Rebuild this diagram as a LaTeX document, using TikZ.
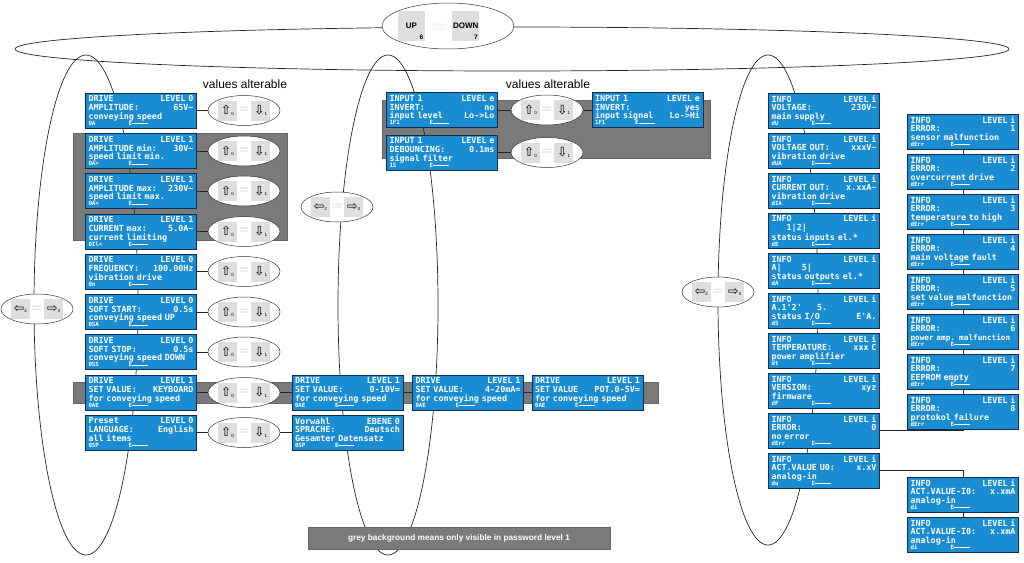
\documentclass[tikz,border=0pt]{standalone}
\usepackage{fontspec}
\setmainfont{Liberation Sans}
\newfontfamily\lcdfont{DejaVu Sans Mono}
\newfontfamily\symfont{DejaVu Sans}
\usetikzlibrary{shapes.geometric, positioning}
\definecolor{lcdblue}{RGB}{26,140,210}
\definecolor{lcdframe}{RGB}{16,44,78}
\definecolor{greybg}{RGB}{122,122,122}
\definecolor{keygrey}{RGB}{222,222,222}
\newcommand{\ac}{\textasciitilde}
\newcommand{\lcd}[6]{#1\hfill #2\\#3\hfill #4\\#5\\[-2.6pt]{\fontsize{5.8}{5.8}\selectfont\makebox[40pt][l]{#6}E\rule[1.5pt]{16pt}{0.6pt}}}
\newcommand{\keyglyph}[2]{{\symfont\fontsize{12.5}{12.5}\selectfont#1}\raisebox{-0.5pt}{\fontsize{4.5}{4.5}\selectfont#2}}
\newcommand{\keypair}[6]{%
  \node[keyoval](#1)at(#2){};
  \node[keysq,left=7pt of #1.center](#1a){\keyglyph{#3}{#4}};
  \node[keysq,right=7pt of #1.center](#1b){\keyglyph{#5}{#6}};
  \node[keyeq](#1c)at(#1.center){=};}
\tikzset{
  lcdbox/.style={
    rectangle, draw=lcdframe, line width=0.8pt, fill=lcdblue, text=white,
    font=\lcdfont\bfseries\fontsize{8.4}{8.6}\selectfont,
    text width=105pt, align=left, inner xsep=3pt, inner ysep=1.5pt,
    minimum height=35pt
  },
  keyoval/.style={
    ellipse, draw=black!80, fill=white, line width=0.5pt,
    minimum width=72pt, minimum height=30pt, inner sep=0pt
  },
  keysq/.style={
    rectangle, fill=keygrey, minimum width=19pt, minimum height=20pt, inner sep=0pt
  },
  keyeq/.style={text=black!12, font=\symfont\fontsize{14}{14}\selectfont, inner sep=0pt},
  updownsq/.style={
    rectangle, fill=keygrey, minimum width=27pt, minimum height=30pt, inner sep=0pt,
    font=\bfseries\fontsize{8}{8}\selectfont
  },
  updownnum/.style={anchor=south east, inner sep=1.5pt, font=\bfseries\fontsize{6.5}{6.5}\selectfont},
  greyband/.style={fill=greybg, draw=black!60, line width=0.4pt},
  loopline/.style={draw=black!85, line width=0.7pt},
  linkline/.style={draw=black!85, line width=0.7pt},
  notetext/.style={font=\fontsize{12}{12}\selectfont},
  legendbox/.style={
    rectangle, fill=greybg, draw=black!60, line width=0.5pt, text=white,
    minimum width=302pt, minimum height=22pt, font=\bfseries\fontsize{8.3}{9}\selectfont
  },
}
\begin{document}
\begin{tikzpicture}[x=1pt,y=-1pt]
\useasboundingbox (0,0) rectangle (1024,562);
% password level 1 areas
\draw[greyband] (73,133) rectangle (287,240);
\draw[greyband] (73,382) rectangle (658,403);
\draw[greyband] (382,100) rectangle (710,158);
% menu loops
\draw[loopline] (512,49) ellipse [x radius=497, y radius=22];
\draw[loopline] (86,305) ellipse [x radius=52, y radius=250];
\draw[loopline] (388,305) ellipse [x radius=50, y radius=250];
\draw[loopline] (768,300) ellipse [x radius=50, y radius=245];
% level keys
\node[keyoval,minimum width=132pt,minimum height=46pt](ud)at(448,26){};
\node[updownsq,left=23pt of ud.center,label={[updownnum]south east:6}](up){UP};
\node[updownsq,right=4pt of ud.center,label={[updownnum]south east:7}](down){DOWN};
\node[font=\fontsize{4}{4.5}\selectfont,text=black!10,align=center](udmid)at(439,27){ENTER\\LEVEL};
\node[notetext](va1)at(245,84){values alterable};
\node[notetext](va2)at(548,84){values alterable};
% drive menu
\node[lcdbox](d1)at(141,110.5){\lcd{DRIVE}{LEVEL 0}{AMPLITUDE:}{65V\ac}{conveying speed}{0A}};
\node[lcdbox](d2)at(141,151){\lcd{DRIVE}{LEVEL 1}{AMPLITUDE min:}{30V\ac}{speed limit min.}{0A>}};
\node[lcdbox](d3)at(141,191){\lcd{DRIVE}{LEVEL 1}{AMPLITUDE max:}{230V\ac}{speed limit max.}{0A<}};
\node[lcdbox](d4)at(141,231.5){\lcd{DRIVE}{LEVEL 1}{CURRENT max:}{5.0A\ac}{current limiting}{0Il<}};
\node[lcdbox](d5)at(141,271.5){\lcd{DRIVE}{LEVEL 0}{FREQUENCY:}{100.00Hz}{vibration drive}{0n}};
\node[lcdbox](d6)at(141,312){\lcd{DRIVE}{LEVEL 0}{SOFT START:}{0.5s}{conveying speed UP}{0SA}};
\node[lcdbox](d7)at(141,352){\lcd{DRIVE}{LEVEL 0}{SOFT STOP:}{0.5s}{conveying speed DOWN}{0SS}};
\node[lcdbox](d8)at(141,392.5){\lcd{DRIVE}{LEVEL 1}{SET VALUE:}{KEYBOARD}{for conveying speed}{0AE}};
\node[lcdbox](d9)at(141,432.5){\lcd{Preset}{LEVEL 0}{LANGUAGE:}{English}{all items}{0SP}};
\node[lcdbox](s1)at(347.5,392.5){\lcd{DRIVE}{LEVEL 1}{SET VALUE:}{0-10V=}{for conveying speed}{0AE}};
\node[lcdbox](s2)at(468,392.5){\lcd{DRIVE}{LEVEL 1}{SET VALUE:}{4-20mA=}{for conveying speed}{0AE}};
\node[lcdbox](s3)at(587.5,392.5){\lcd{DRIVE}{LEVEL 1}{SET VALUE}{POT.0-5V=}{for conveying speed}{0AE}};
\node[lcdbox](v1)at(347.5,432.5){\lcd{Vorwahl}{EBENE 0}{SPRACHE:}{Deutsch}{Gesamter Datensatz}{0SP}};
\keypair{k1}{244,110.5}{⇧}{0}{⇩}{1}
\keypair{k2}{244,151}{⇧}{0}{⇩}{1}
\keypair{k3}{244,191}{⇧}{0}{⇩}{1}
\keypair{k4}{244,231.5}{⇧}{0}{⇩}{1}
\keypair{k5}{244,271.5}{⇧}{0}{⇩}{1}
\keypair{k6}{244,312}{⇧}{0}{⇩}{1}
\keypair{k7}{244,352}{⇧}{0}{⇩}{1}
\keypair{k8}{244,392.5}{⇧}{0}{⇩}{1}
\keypair{k9}{244,432.5}{⇧}{0}{⇩}{1}
\draw[linkline](d1.east)--(k1.west);
\draw[linkline](d2.east)--(k2.west);
\draw[linkline](d3.east)--(k3.west);
\draw[linkline](d4.east)--(k4.west);
\draw[linkline](d5.east)--(k5.west);
\draw[linkline](d6.east)--(k6.west);
\draw[linkline](d7.east)--(k7.west);
\draw[linkline](d8.east)--(k8.west);
\draw[linkline](d9.east)--(k9.west);
\draw[linkline](k8.east)--(s1.west);
\draw[linkline](s1.east)--(s2.west);
\draw[linkline](s2.east)--(s3.west);
\draw[linkline](k9.east)--(v1.west);
% input menu
\node[lcdbox](n1)at(442,110){\lcd{INPUT 1}{LEVEL e}{INVERT:}{no}{input level\hfill Lo->Lo}{1F1}};
\node[lcdbox](n2)at(442,152.5){\lcd{INPUT 1}{LEVEL e}{DEBOUNCING:}{0.1ms}{signal filter}{1S}};
\node[lcdbox](n3)at(647.5,110){\lcd{INPUT 1}{LEVEL e}{INVERT:}{yes}{input signal\hfill Lo->Hi}{1F1}};
\keypair{m1}{547,110}{⇧}{0}{⇩}{1}
\keypair{m2}{547,152.5}{⇧}{0}{⇩}{1}
\draw[linkline](n1.east)--(m1.west);
\draw[linkline](m1.east)--(n3.west);
\draw[linkline](n2.east)--(m2.west);
% menu change keys
\keypair{lr1}{37,309}{⇦}{2}{⇨}{3}
\keypair{lr2}{337,207}{⇦}{2}{⇨}{3}
\keypair{lr3}{718,292}{⇦}{2}{⇨}{3}
% info menu
\node[lcdbox](i1)at(824,110.5){\lcd{INFO}{LEVEL i}{VOLTAGE:}{230V\ac}{main supply}{dU}};
\node[lcdbox](i2)at(824,150.5){\lcd{INFO}{LEVEL i}{VOLTAGE OUT:}{xxxV\ac}{vibration drive}{dUA}};
\node[lcdbox](i3)at(824,190.5){\lcd{INFO}{LEVEL i}{CURRENT OUT:}{x.xxA\ac}{vibration drive}{dIA}};
\node[lcdbox](i4)at(824,230.5){\lcd{INFO}{LEVEL i}{\phantom{XXX}1|2|}{}{status inputs el.*}{dE}};
\node[lcdbox](i5)at(824,270.5){\lcd{INFO}{LEVEL i}{A|\phantom{XXXX}5|}{}{status outputs el.*}{dA}};
\node[lcdbox](i6)at(824,310.5){\lcd{INFO}{LEVEL i}{A.1\textquotesingle 2\textquotesingle\phantom{XXX}5.}{}{status I/O\hfill E\textquotesingle A.}{dS}};
\node[lcdbox](i7)at(824,350.5){\lcd{INFO}{LEVEL i}{TEMPERATURE:}{xxx C}{power amplifier}{dt}};
\node[lcdbox](i8)at(824,390.5){\lcd{INFO}{LEVEL i}{VERSION:}{xyz}{firmware}{dF}};
\node[lcdbox](i9)at(824,430.5){\lcd{INFO}{LEVEL i}{ERROR:}{0}{no error}{dErr}};
\node[lcdbox](i10)at(824,470.5){\lcd{INFO}{LEVEL i}{ACT.VALUE U0:}{x.xV}{analog-in}{du}};
% error list
\node[lcdbox](e1)at(963,131.5){\lcd{INFO}{LEVEL i}{ERROR:}{1}{sensor malfunction}{dErr}};
\node[lcdbox](e2)at(963,171.5){\lcd{INFO}{LEVEL i}{ERROR:}{2}{overcurrent drive}{dErr}};
\node[lcdbox](e3)at(963,211.5){\lcd{INFO}{LEVEL i}{ERROR:}{3}{temperature to high}{dErr}};
\node[lcdbox](e4)at(963,251.5){\lcd{INFO}{LEVEL i}{ERROR:}{4}{main voltage fault}{dErr}};
\node[lcdbox](e5)at(963,291.5){\lcd{INFO}{LEVEL i}{ERROR:}{5}{set value malfunction}{dErr}};
\node[lcdbox](e6)at(963,331.5){\lcd{INFO}{LEVEL i}{ERROR:}{6}{{\fontsize{7.7}{8}\selectfont power amp. malfunction}}{dErr}};
\node[lcdbox](e7)at(963,371.5){\lcd{INFO}{LEVEL i}{ERROR:}{7}{EEPROM empty}{dErr}};
\node[lcdbox](e8)at(963,411.5){\lcd{INFO}{LEVEL i}{ERROR:}{8}{protokol failure}{dErr}};
\node[lcdbox](a1)at(963,494.5){\lcd{INFO}{LEVEL i}{ACT.VALUE-I0:}{x.xmA}{analog-in}{di}};
\node[lcdbox](a2)at(963,534.5){\lcd{INFO}{LEVEL i}{ACT.VALUE-I0:}{x.xmA}{analog-in}{di}};
\draw[linkline](e1)--(e2);
\draw[linkline](e2)--(e3);
\draw[linkline](e3)--(e4);
\draw[linkline](e4)--(e5);
\draw[linkline](e5)--(e6);
\draw[linkline](e6)--(e7);
\draw[linkline](e7)--(e8);
\draw[linkline](i9.east)-|(e8.south);
\draw[linkline](i10.east)-|(a1.north);
\draw[linkline](a1)--(a2);
% legend
\node[legendbox](legend)at(459,538){grey background means only visible in password level 1};
\end{tikzpicture}
\end{document}
